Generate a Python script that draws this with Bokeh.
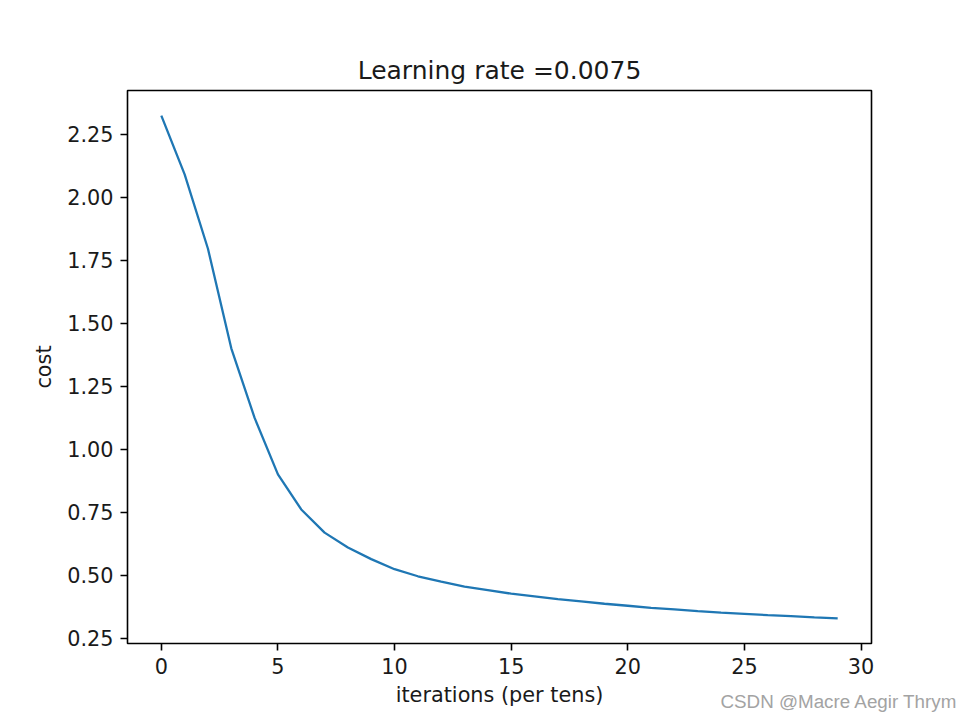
from bokeh.plotting import figure
from bokeh.models import Range1d, FixedTicker, PrintfTickFormatter, Label, Title
from bokeh.embed import file_html
from bokeh.resources import INLINE

# ---- data ----
iterations = list(range(30))
costs = [2.323, 2.090, 1.795, 1.400, 1.124, 0.900, 0.761, 0.669, 0.610, 0.564,
         0.524, 0.496, 0.475, 0.455, 0.441, 0.427, 0.416, 0.405, 0.396, 0.387,
         0.379, 0.371, 0.365, 0.358, 0.352, 0.347, 0.342, 0.338, 0.333, 0.329]
x_ticks = [0, 5, 10, 15, 20, 25, 30]
y_ticks = [0.25, 0.50, 0.75, 1.00, 1.25, 1.50, 1.75, 2.00, 2.25]
title_text = "Learning rate =0.0075"
x_label = "iterations (per tens)"
y_label = "cost"
watermark = "CSDN @Macre Aegir Thrym"

FONT = "DejaVu Sans"
TXT = "#1a1a1a"

xm = 0.05 * (max(iterations) - min(iterations))
ym = 0.05 * (max(costs) - min(costs))

p = figure(width=967, height=718, output_backend="svg", toolbar_location=None,
           x_range=Range1d(min(iterations) - xm, max(iterations) + xm),
           y_range=Range1d(min(costs) - ym, max(costs) + ym),
           min_border_left=127, min_border_right=96,
           min_border_top=90, min_border_bottom=75)

t = Title(text=title_text, align="center", text_font=FONT, text_font_size="25px",
          text_font_style="normal", text_color=TXT, standoff=11)
p.add_layout(t, "above")

p.line(iterations, costs, line_color="#1f77b4", line_width=2.3)

p.xgrid.visible = False
p.ygrid.visible = False
p.background_fill_color = "white"
p.border_fill_color = "white"
p.outline_line_color = "black"
p.outline_line_width = 1.6
p.outline_line_alpha = 1.0

for ax in (p.xaxis[0], p.yaxis[0]):
    ax.axis_line_color = None
    ax.major_tick_line_color = "black"
    ax.major_tick_line_width = 1.6
    ax.major_tick_out = 7
    ax.major_tick_in = 0
    ax.minor_tick_line_color = None
    ax.major_label_standoff = 7
    ax.major_label_text_font = FONT
    ax.major_label_text_font_size = "20.8px"
    ax.major_label_text_color = TXT
    ax.axis_label_text_font = FONT
    ax.axis_label_text_font_size = "20.8px"
    ax.axis_label_text_font_style = "normal"
    ax.axis_label_text_color = TXT

p.xaxis[0].ticker = FixedTicker(ticks=x_ticks)
p.yaxis[0].ticker = FixedTicker(ticks=y_ticks)
p.yaxis[0].formatter = PrintfTickFormatter(format="%.2f")
p.xaxis[0].axis_label = x_label
p.yaxis[0].axis_label = y_label
p.xaxis[0].axis_label_standoff = 6
p.yaxis[0].axis_label_standoff = 8

# watermark placed in the top side panel (not clipped to the frame), shifted down
wm = Label(x=593, y=-653, x_units="screen", y_units="screen", text=watermark,
           text_font="Liberation Sans", text_font_size="18.8px", text_color="#a3a3a3",
           text_baseline="alphabetic", text_align="left")
p.add_layout(wm, "above")

open("out.html", "w").write(file_html(p, INLINE))
